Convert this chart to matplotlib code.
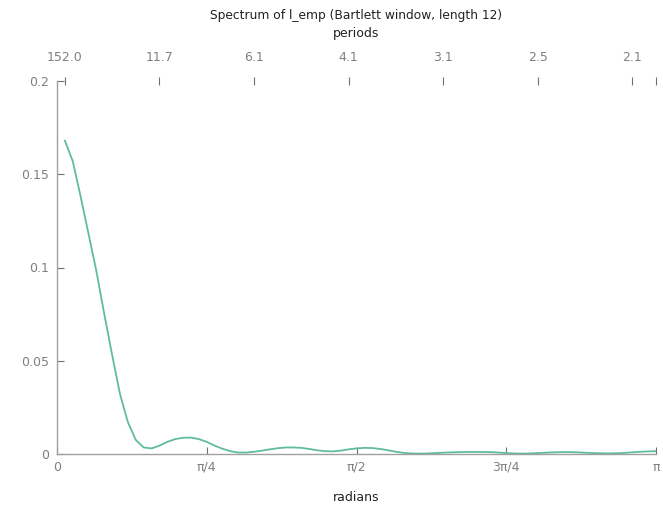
import numpy as np
import matplotlib
matplotlib.use("Agg")
import matplotlib.pyplot as plt

# Sample size and Fourier frequency indices j (omega_j = 2*pi*j/T)
T = 152
freq_index = list(range(1, 77))
spectrum = [
    0.168, 0.157, 0.138, 0.118, 0.098, 0.075, 0.053, 0.032, 0.017, 0.0075,
    0.0035, 0.0030, 0.0045, 0.0065, 0.0080, 0.0087, 0.0088, 0.0080, 0.0065, 0.0045,
    0.0028, 0.0015, 0.0008, 0.0008, 0.0012, 0.0018, 0.0025, 0.0031, 0.0035, 0.0035,
    0.0033, 0.0027, 0.0020, 0.0015, 0.0014, 0.0018, 0.0025, 0.0030, 0.0033, 0.0032,
    0.0027, 0.0020, 0.0012, 0.0006, 0.0003, 0.0002, 0.0003, 0.0005, 0.0007, 0.0009,
    0.0010, 0.0011, 0.0011, 0.0011, 0.0010, 0.0008, 0.0005, 0.0003, 0.0002, 0.0003,
    0.0005, 0.0007, 0.0009, 0.0010, 0.0010, 0.0009, 0.0007, 0.0005, 0.0004, 0.0003,
    0.0004, 0.0006, 0.0009, 0.0012, 0.0014, 0.0015,
]
bottom_tick_labels = ["0", "π/4", "π/2", "3π/4", "π"]
y_ticks = [0, 0.05, 0.1, 0.15, 0.2]
y_tick_labels = ["0", "0.05", "0.1", "0.15", "0.2"]
period_index = [1, 13, 25, 37, 49, 61, 73]
period_labels = ["152.0", "11.7", "6.1", "4.1", "3.1", "2.5", "2.1"]

line_color = "#5fbd9c"
axis_color = "#a0a0a0"
label_gray = "#808080"

plt.rcParams["font.family"] = ["DejaVu Sans"]

fig = plt.figure(figsize=(6.63, 5.08), dpi=100)
ax = fig.add_axes([57 / 663, 54 / 508, 599 / 663, 373 / 508])

omega = 2 * np.pi * np.array(freq_index) / T
ax.plot(omega, spectrum, color=line_color, lw=1.3)

ax.set_xlim(0, np.pi)
ax.set_ylim(0, 0.2)

for s in ["top", "right"]:
    ax.spines[s].set_visible(False)
for s in ["left", "bottom"]:
    ax.spines[s].set_color(axis_color)
    ax.spines[s].set_linewidth(1.0)

ax.set_xticks(np.array([0, 0.25, 0.5, 0.75, 1.0]) * np.pi)
ax.set_xticklabels(bottom_tick_labels)
ax.set_yticks(y_ticks)
ax.set_yticklabels(y_tick_labels)
ax.tick_params(axis="both", direction="in", length=5, width=0.8,
               color="#707070", labelcolor=label_gray, labelsize=9)
ax.tick_params(axis="x", pad=5)
ax.tick_params(axis="y", pad=6)

ax.set_xlabel("radians", fontsize=9, color="#222222", labelpad=12)

# top axis with periods
sec = ax.secondary_xaxis("top")
sec.spines["top"].set_visible(False)
top_pos = list(2 * np.pi * np.array(period_index) / T) + [np.pi]
sec.set_xticks(top_pos)
sec.set_xticklabels(period_labels + [""])
sec.tick_params(axis="x", direction="inout", length=6, width=0.8,
                color="#707070", labelcolor=label_gray, labelsize=9, pad=9)

cx = 0.5 * (57 + 656) / 663
fig.text(cx, 1 - 16 / 508,
         "Spectrum of l_emp (Bartlett window, length 12)",
         ha="center", va="center", fontsize=8.8, color="#222222")
fig.text(cx, 1 - 33 / 508, "periods",
         ha="center", va="center", fontsize=9, color="#222222")

fig.savefig("out.png", dpi=100)
